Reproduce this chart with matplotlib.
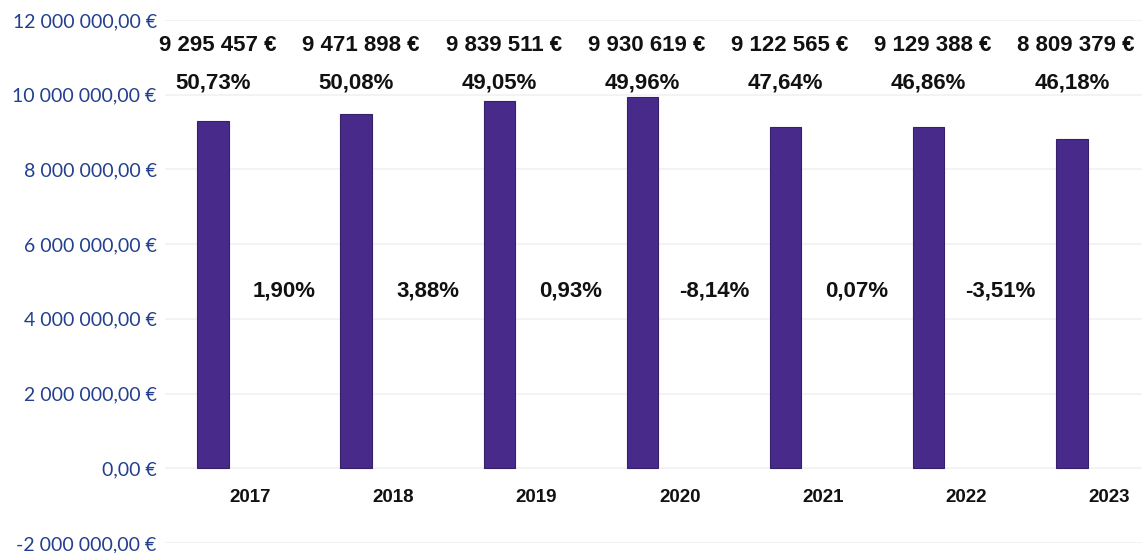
import matplotlib
matplotlib.use("Agg")
import matplotlib.pyplot as plt
from matplotlib.ticker import FuncFormatter

years = ["2017", "2018", "2019", "2020", "2021", "2022", "2023"]
values = [9295457, 9471898, 9839511, 9930619, 9122565, 9129388, 8809379]
value_labels = ["9 295 457 €", "9 471 898 €", "9 839 511 €", "9 930 619 €",
                "9 122 565 €", "9 129 388 €", "8 809 379 €"]
share_labels = ["50,73%", "50,08%", "49,05%", "49,96%", "47,64%", "46,86%", "46,18%"]
growth_labels = ["1,90%", "3,88%", "0,93%", "-8,14%", "0,07%", "-3,51%"]

fig = plt.figure(figsize=(11.42, 5.53), dpi=100)
ax = fig.add_axes([0.1445, 0.018, 0.8555, 0.946])

x = list(range(len(years)))
ax.bar(x, values, width=0.22, color="#472a8a", edgecolor="#35206a", linewidth=0.8, zorder=3)

ax.set_ylim(-2000000, 12000000)
ax.set_xlim(-0.335, 6.49)
ax.set_yticks(range(-2000000, 12000001, 2000000))

def fmt(v, pos):
    s = f"{abs(int(v)):,}".replace(",", " ") + ",00 €"
    return ("-" if v < 0 else "") + s

ax.yaxis.set_major_formatter(FuncFormatter(fmt))
ax.tick_params(axis="y", length=0, pad=6, labelsize=14, labelcolor="#23408e")
for lab in ax.get_yticklabels():
    lab.set_fontfamily("Lato")
ax.set_xticks([])
ax.grid(axis="y", color="#f1f1f1", linewidth=1.2, zorder=0)
for s in ax.spines.values():
    s.set_visible(False)

bold = dict(fontfamily="Liberation Sans", fontweight="bold", color="#111111", fontsize=16)
for i in x:
    ax.text(i + 0.03, 11320000, value_labels[i], ha="center", va="center", **bold)
    ax.text(i, 10320000, share_labels[i], ha="center", va="center", **bold)
    ax.text(i + 0.26, -780000, years[i], ha="center", va="center",
            fontfamily="Liberation Sans", fontweight="bold", color="#111111", fontsize=13.5)
for i, g in enumerate(growth_labels):
    ax.text(i + 0.5, 4750000, g, ha="center", va="center", **bold)

fig.savefig("out.png", dpi=100)
